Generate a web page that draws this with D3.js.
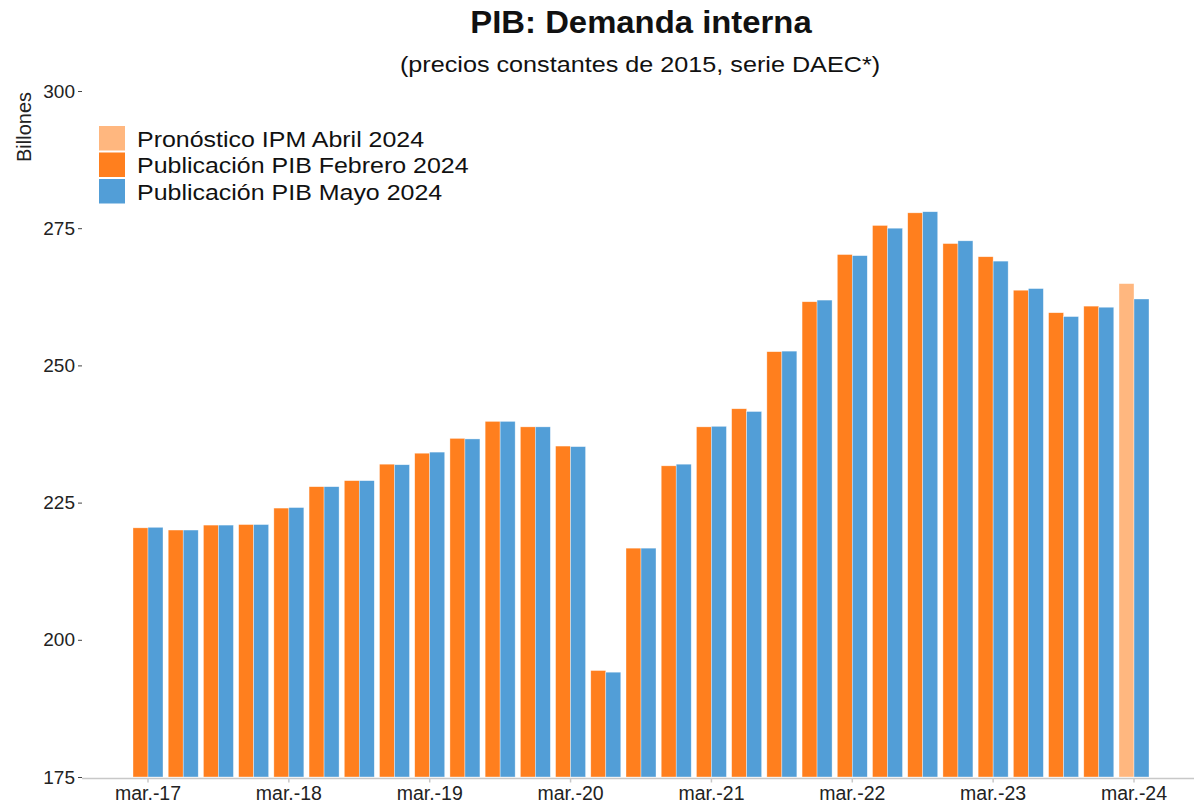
<!DOCTYPE html>
<html>
<head>
<meta charset="utf-8">
<script src="https://cdn.jsdelivr.net/npm/d3@7"></script>
<style>
  body { margin: 0; background: #fff; }
  svg { font-family: 'Liberation Sans', Arial, sans-serif; display: block; }
  .x-axis path, .y-axis path { display: none; }
  .x-axis line { stroke: #c8c8c8; stroke-width: 1.5; }
  .y-axis line { stroke: #444; }
  .tick text { fill: #222; }
</style>
</head>
<body>
<div id="chart"></div>
<script>
// -------------------------------------------------------------------------
// Data (billones, precios constantes de 2015)

const quarters = [
  'mar.-17', 'jun.-17', 'sep.-17', 'dic.-17',
  'mar.-18', 'jun.-18', 'sep.-18', 'dic.-18',
  'mar.-19', 'jun.-19', 'sep.-19', 'dic.-19',
  'mar.-20', 'jun.-20', 'sep.-20', 'dic.-20',
  'mar.-21', 'jun.-21', 'sep.-21', 'dic.-21',
  'mar.-22', 'jun.-22', 'sep.-22', 'dic.-22',
  'mar.-23', 'jun.-23', 'sep.-23', 'dic.-23',
  'mar.-24'
];

const pubFebrero = [
  220.4, 220.0, 220.9, 221.0,
  224.0, 227.9, 229.0, 232.0,
  234.0, 236.7, 239.8, 238.8,
  235.3, 194.4, 216.7, 231.7,
  238.8, 242.1, 252.5, 261.6,
  270.2, 275.5, 277.8, 272.2,
  269.8, 263.7, 259.6, 260.8,
  null
];

const pubMayo = [
  220.5, 220.0, 220.9, 221.0,
  224.1, 227.9, 229.0, 231.9,
  234.2, 236.6, 239.8, 238.8,
  235.2, 194.1, 216.7, 232.0,
  238.9, 241.6, 252.6, 261.9,
  270.0, 275.0, 278.0, 272.7,
  269.0, 264.0, 258.9, 260.6,
  262.1
];

const pronosticoIPM = [
  null, null, null, null, null, null, null, null, null, null,
  null, null, null, null, null, null, null, null, null, null,
  null, null, null, null, null, null, null, null,
  264.9
];

const yTicks = [175, 200, 225, 250, 275, 300];
const xTickLabels = quarters.filter(q => q.startsWith('mar.'));

const seriesNames = ['Pronóstico IPM Abril 2024', 'Publicación PIB Febrero 2024', 'Publicación PIB Mayo 2024'];
const seriesColors = ['#ffb77f', '#ff7f1e', '#529ed7'];

// -------------------------------------------------------------------------
// Layout

const width = 1194;
const height = 805;
const plotLeft = 82;
const plotRight = 1194;

const svg = d3.select('#chart')
  .append('svg')
  .attr('width', width)
  .attr('height', height);

const y = d3.scaleLinear().domain([175, 300]).range([777, 91]);

// band centers: mar.-17 at 148, mar.-24 at 1134
const step = (1134 - 148) / (quarters.length - 1);
const x = d3.scaleBand()
  .domain(quarters)
  .range([148 - step / 2, 1134 + step / 2])
  .padding(0);

const groupWidth = 30;
const slot = d3.scaleBand()
  .domain(['left', 'right'])
  .range([(x.bandwidth() - groupWidth) / 2, (x.bandwidth() + groupWidth) / 2]);

// flat list of bars
const bars = [];
quarters.forEach((q, i) => {
  if (pronosticoIPM[i] != null) bars.push({ q, v: pronosticoIPM[i], s: 0, pos: 'left' });
  if (pubFebrero[i] != null) bars.push({ q, v: pubFebrero[i], s: 1, pos: 'left' });
  if (pubMayo[i] != null) bars.push({ q, v: pubMayo[i], s: 2, pos: 'right' });
});

// -------------------------------------------------------------------------
// Bars

svg.append('g')
  .attr('class', 'bars')
  .selectAll('rect')
  .data(bars)
  .enter()
  .append('rect')
  .attr('x', d => x(d.q) + slot(d.pos))
  .attr('width', slot.bandwidth())
  .attr('y', d => y(d.v))
  .attr('height', d => y(175) - y(d.v))
  .attr('fill', d => seriesColors[d.s])
  .attr('stroke', '#fff')
  .attr('stroke-opacity', 0.6)
  .attr('stroke-width', 0.6);

// -------------------------------------------------------------------------
// Axes

const xAxis = svg.append('g')
  .attr('class', 'x-axis')
  .attr('transform', `translate(0,${y(175) + 1.5})`)
  .call(d3.axisBottom(x).tickValues(xTickLabels).tickSize(4).tickPadding(4))
  .attr('font-size', 19.5)
  .attr('font-family', null);

xAxis.append('line')
  .attr('x1', plotLeft)
  .attr('x2', plotRight)
  .attr('stroke', '#c8c8c8')
  .attr('stroke-width', 2);

svg.append('g')
  .attr('class', 'y-axis')
  .attr('transform', `translate(${plotLeft},0)`)
  .call(d3.axisLeft(y).tickValues(yTicks).tickSize(4).tickPadding(3))
  .attr('font-size', 19)
  .attr('font-family', null);

svg.append('text')
  .attr('transform', 'translate(31,127) rotate(-90)')
  .attr('text-anchor', 'middle')
  .attr('font-size', 20)
  .attr('fill', '#222')
  .text('Billones');

// -------------------------------------------------------------------------
// Titles (the reference type is slightly wider than Arial, hence the stretch)

svg.append('text')
  .attr('transform', 'translate(641,33) scale(1.06,1)')
  .attr('text-anchor', 'middle')
  .attr('font-size', 31)
  .attr('font-weight', 'bold')
  .attr('fill', '#111')
  .text('PIB: Demanda interna');

svg.append('text')
  .attr('transform', 'translate(640,72) scale(1.12,1)')
  .attr('text-anchor', 'middle')
  .attr('font-size', 22.5)
  .attr('fill', '#111')
  .text('(precios constantes de 2015, serie DAEC*)');

// -------------------------------------------------------------------------
// Legend

const legend = svg.append('g')
  .attr('class', 'legend')
  .attr('transform', 'translate(99,126)');

const items = legend.selectAll('g')
  .data(seriesNames)
  .enter()
  .append('g')
  .attr('transform', (d, i) => `translate(0,${i * 26.5})`);

items.append('rect')
  .attr('width', 26)
  .attr('height', 24.5)
  .attr('fill', (d, i) => seriesColors[i]);

items.append('text')
  .attr('transform', 'translate(38,20.5) scale(1.11,1)')
  .attr('font-size', 22.5)
  .attr('fill', '#111')
  .text(d => d);
</script>
</body>
</html>
